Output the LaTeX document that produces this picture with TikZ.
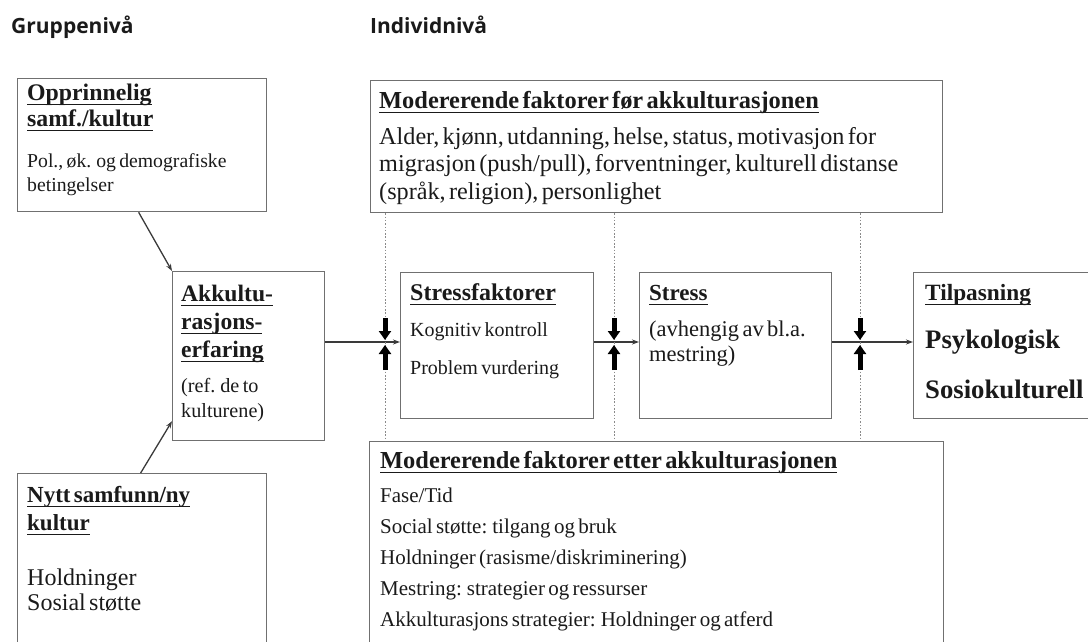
\documentclass[tikz,border=0pt]{standalone}
\usepackage{fontspec}
\setmainfont{Liberation Serif}
\newfontfamily\tierfont{Open Sans}
\usetikzlibrary{arrows.meta,calc}
\definecolor{boxgray}{HTML}{707070}
\definecolor{linegray}{HTML}{3A3A3A}
\definecolor{dotgray}{HTML}{8A8A8A}
\definecolor{ink}{HTML}{1A1A1A}
\newcommand{\setfs}[2]{\fontsize{#1}{#2}\selectfont}
\newcommand{\ulin}[1]{\leavevmode\setbox0\hbox{#1}\rlap{\rule[-5pt]{\wd0}{1.3pt}}\box0}

\begin{document}
\begin{tikzpicture}[x=1pt,y=-1pt]
\useasboundingbox (0,0) rectangle (1088,642);
\clip (0,0) rectangle (1088,642);
\begin{scope}
	\tikzstyle{box}=[draw=boxgray, line width=1.3pt, anchor=north west, inner sep=0pt]
	\tikzstyle{txt}=[anchor=base west, inner sep=0pt, align=left, text=ink, text width=560pt]
	\tikzstyle{tier}=[anchor=base west, inner sep=0pt, text=ink, font=\tierfont\bfseries\setfs{21}{25}]
	\tikzstyle{flow}=[draw=linegray, line width=1.3pt, -{Stealth[length=7pt,width=5pt]}]
	\tikzstyle{block}=[draw=black, line width=5pt, -{Triangle[width=12pt,length=9pt]}]
	\tikzstyle{guide}=[draw=dotgray, line width=1pt, dash pattern=on 1.5pt off 1.8pt]

	\node[tier] (grp) at (11,34) {Gruppenivå};
	\node[tier] (ind) at (370,34) {Individnivå};

	\node[box, minimum width=249, minimum height=133] (orig) at (17,78) {};
	\node[box, minimum width=572, minimum height=132] (fore) at (370,80) {};
	\node[box, minimum width=152, minimum height=169] (akk) at (172,271) {};
	\node[box, minimum width=193, minimum height=146] (stf) at (400,272) {};
	\node[box, minimum width=192, minimum height=146] (stress) at (639,272) {};
	\node[box, minimum width=200, minimum height=146] (tilp) at (913,272) {};
	\node[box, minimum width=249, minimum height=200] (nytt) at (17,473) {};
	\node[box, minimum width=574, minimum height=220] (etter) at (369,441) {};

	\node[txt] (origtext) at (27,100) {\setfs{23.8}{26}\bfseries\ulin{Opprinnelig}\\ \ulin{samf./kultur}\par
		\vspace{18pt}\setfs{19.7}{24}\mdseries Pol., øk. og demografiske\\ betingelser\par};
	\node[txt] (foretext) at (379,108) {\setfs{24.4}{28}\bfseries\ulin{Modererende faktorer før akkulturasjonen}\par
		\vspace{8pt}\setfs{24.2}{28}\mdseries Alder, kjønn, utdanning, helse, status, motivasjon for\\ migrasjon (push/pull), forventninger, kulturell distanse\\ (språk, religion), personlighet\par};
	\node[txt] (akktext) at (181,301) {\setfs{23.6}{28}\bfseries\ulin{Akkultu-}\\ \ulin{rasjons-}\\ \ulin{erfaring}\par
		\vspace{10pt}\setfs{20.2}{25}\mdseries (ref. de to\\ kulturene)\par};
	\node[txt] (stftext) at (410,300) {\setfs{24}{28}\bfseries\ulin{Stressfaktorer}\par
		\vspace{-2pt}\setfs{20}{38}\mdseries Kognitiv kontroll\\ Problem vurdering\par};
	\node[txt] (stresstext) at (649,300) {\setfs{23}{28}\bfseries\ulin{Stress}\par
		\vspace{11pt}\setfs{22.5}{25}\mdseries (avhengig av bl.a.\\ mestring)\par};
	\node[txt] (tilptext) at (925,300) {\setfs{23.3}{28}\bfseries\ulin{Tilpasning}\par
		\vspace{-2pt}\setfs{26.7}{50}Psykologisk\\ Sosiokulturell\par};
	\node[txt] (nytttext) at (27,502) {\setfs{23}{28}\bfseries\ulin{Nytt samfunn/ny}\\ \ulin{kultur}\par
		\vspace{30pt}\setfs{24}{25}\mdseries Holdninger\\ Sosial støtte\par};
	\node[txt] (ettertext) at (380,468) {\setfs{24.4}{28}\bfseries\ulin{Modererende faktorer etter akkulturasjonen}\par
		\vspace{3pt}\setfs{21}{31}\mdseries Fase/Tid\\ Social støtte: tilgang og bruk\\ Holdninger (rasisme/diskriminering)\\ Mestring: strategier og ressurser\\ Akkulturasjons strategier: Holdninger og atferd\par};

	\coordinate (flow) at (0,342);
	\coordinate (col1) at (385,0);
	\coordinate (col2) at (614,0);
	\coordinate (col3) at (860,0);

	\draw[flow] ($(orig.south west)!0.486!(orig.south east)$) -- (akk.north west);
	\draw[flow] ($(nytt.north west)!0.494!(nytt.north east)$) -- ($(akk.south west)!0.118!(akk.north west)$);
	\draw[flow] (akk.east |- flow) -- (stf.west |- flow);
	\draw[flow] (stf.east |- flow) -- (stress.west |- flow);
	\draw[flow] (stress.east |- flow) -- (tilp.west |- flow);

	\foreach \c in {col1,col2,col3} {
		\draw[guide] (fore.south -| \c) -- (etter.north -| \c);
		\draw[block] ($(flow -| \c)+(0,-24)$) -- ($(flow -| \c)+(0,-2)$);
		\draw[block] ($(flow -| \c)+(0,28)$) -- ($(flow -| \c)+(0,3)$);
	}
\end{scope}
\end{tikzpicture}
\end{document}
